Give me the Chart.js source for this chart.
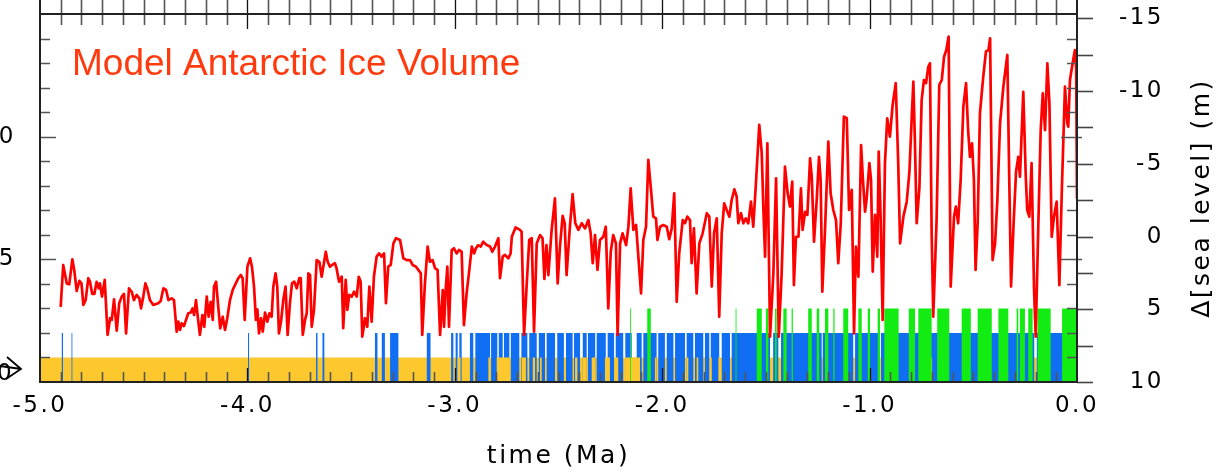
<!DOCTYPE html>
<html>
<head>
<meta charset="utf-8">
<title>Model Antarctic Ice Volume</title>
<script src="https://cdn.jsdelivr.net/npm/chart.js"></script>
<style>
  html, body { margin: 0; padding: 0; background: #fff; }
  #wrap { width: 1222px; height: 473px; overflow: hidden; }
</style>
</head>
<body>
<div id="wrap"><canvas id="iceChart" width="1222" height="473"></canvas></div>
<script>
// model ice volume (left axis units) against time (Ma)
const iceTime = [
  -4.900,-4.888,-4.871,-4.859,-4.844,-4.835,-4.823,-4.810,-4.800,-4.791,-4.780,-4.767,-4.759,-4.748,-4.738,-4.727,-4.717,-4.711,-4.701,-4.688,
  -4.674,-4.662,-4.654,-4.643,-4.630,-4.618,-4.606,-4.595,-4.585,-4.571,-4.558,-4.547,-4.534,-4.521,-4.513,-4.502,-4.492,-4.483,-4.470,-4.454,
  -4.430,-4.418,-4.405,-4.392,-4.381,-4.365,-4.354,-4.341,-4.333,-4.325,-4.317,-4.306,-4.296,-4.285,-4.273,-4.264,-4.257,-4.248,-4.238,-4.229,
  -4.217,-4.208,-4.196,-4.187,-4.177,-4.167,-4.161,-4.151,-4.142,-4.131,-4.119,-4.108,-4.097,-4.084,-4.071,-4.060,-4.044,-4.032,-4.023,-4.013,
  -4.000,-3.987,-3.978,-3.968,-3.959,-3.952,-3.944,-3.934,-3.926,-3.915,-3.904,-3.894,-3.883,-3.875,-3.864,-3.856,-3.848,-3.837,-3.827,-3.816,
  -3.806,-3.795,-3.785,-3.774,-3.762,-3.750,-3.743,-3.733,-3.722,-3.714,-3.706,-3.698,-3.690,-3.679,-3.666,-3.653,-3.642,-3.634,-3.622,-3.613,
  -3.602,-3.591,-3.578,-3.570,-3.558,-3.545,-3.538,-3.526,-3.518,-3.509,-3.497,-3.486,-3.473,-3.463,-3.454,-3.446,-3.433,-3.422,-3.412,-3.401,
  -3.390,-3.377,-3.365,-3.353,-3.341,-3.332,-3.321,-3.309,-3.296,-3.284,-3.264,-3.248,-3.232,-3.216,-3.203,-3.187,-3.176,-3.164,-3.157,-3.144,
  -3.131,-3.120,-3.107,-3.095,-3.083,-3.071,-3.058,-3.052,-3.044,-3.036,-3.028,-3.015,-3.004,-2.991,-2.980,-2.967,-2.956,-2.943,-2.930,-2.918,
  -2.907,-2.898,-2.887,-2.875,-2.863,-2.846,-2.830,-2.819,-2.806,-2.790,-2.782,-2.769,-2.758,-2.742,-2.731,-2.725,-2.707,-2.686,-2.678,-2.666,
  -2.653,-2.641,-2.629,-2.618,-2.605,-2.589,-2.577,-2.568,-2.558,-2.549,-2.533,-2.517,-2.504,-2.493,-2.480,-2.470,-2.461,-2.445,-2.432,-2.419,
  -2.404,-2.388,-2.372,-2.356,-2.345,-2.335,-2.324,-2.312,-2.300,-2.284,-2.272,-2.260,-2.248,-2.236,-2.223,-2.215,-2.203,-2.191,-2.174,-2.163,
  -2.152,-2.139,-2.126,-2.115,-2.102,-2.091,-2.078,-2.067,-2.054,-2.043,-2.030,-2.023,-2.010,-1.995,-1.978,-1.966,-1.954,-1.942,-1.930,-1.918,
  -1.901,-1.890,-1.879,-1.866,-1.858,-1.847,-1.834,-1.821,-1.805,-1.785,-1.773,-1.761,-1.750,-1.737,-1.725,-1.713,-1.701,-1.689,-1.676,-1.665,
  -1.652,-1.641,-1.633,-1.620,-1.609,-1.597,-1.585,-1.572,-1.561,-1.548,-1.532,-1.520,-1.512,-1.504,-1.493,-1.480,-1.464,-1.451,-1.438,-1.424,
  -1.408,-1.395,-1.384,-1.373,-1.365,-1.355,-1.343,-1.331,-1.323,-1.311,-1.300,-1.287,-1.279,-1.268,-1.255,-1.244,-1.236,-1.228,-1.215,-1.199,
  -1.188,-1.175,-1.162,-1.151,-1.139,-1.124,-1.110,-1.099,-1.086,-1.075,-1.066,-1.054,-1.041,-1.033,-1.022,-1.014,-1.001,-0.993,-0.985,-0.974,
  -0.963,-0.956,-0.947,-0.937,-0.926,-0.915,-0.902,-0.889,-0.874,-0.862,-0.853,-0.837,-0.821,-0.808,-0.796,-0.789,-0.781,-0.773,-0.760,-0.749,
  -0.738,-0.728,-0.717,-0.709,-0.701,-0.693,-0.677,-0.664,-0.652,-0.641,-0.630,-0.619,-0.609,-0.593,-0.584,-0.573,-0.561,-0.548,-0.535,-0.525,
  -0.516,-0.506,-0.497,-0.489,-0.479,-0.468,-0.452,-0.439,-0.427,-0.419,-0.407,-0.395,-0.384,-0.371,-0.355,-0.336,-0.326,-0.318,-0.307,-0.294,
  -0.283,-0.275,-0.259,-0.247,-0.240,-0.230,-0.219,-0.207,-0.199,-0.187,-0.175,-0.165,-0.154,-0.143,-0.133,-0.122,-0.111,-0.098,-0.085,-0.074,
  -0.058,-0.047,-0.042,-0.034,-0.021,-0.010,-0.004,0.000
];
const iceVolume = [
  3.10,4.77,4.02,3.98,5.00,4.57,3.71,4.12,4.02,3.14,3.34,4.23,4.09,3.59,3.59,4.08,3.82,4.02,3.48,4.16,
  1.92,2.60,2.53,3.37,2.09,3.21,3.48,3.59,1.98,3.82,3.68,3.34,3.55,3.41,3.00,3.48,4.02,3.82,3.34,3.14,
  3.21,3.30,3.82,3.75,3.34,3.41,3.34,2.05,2.46,2.12,2.39,2.28,2.53,2.80,2.83,3.00,2.73,3.34,2.56,1.92,
  2.73,2.25,3.48,2.66,3.27,2.53,3.89,4.09,3.21,2.19,2.66,2.12,2.60,3.34,3.75,3.95,4.23,4.36,4.23,2.53,
  4.70,5.04,4.70,3.89,2.53,2.96,1.98,2.60,2.05,2.83,2.46,2.80,2.66,3.89,4.43,3.89,1.98,2.53,3.34,3.89,
  1.92,3.21,4.02,4.09,3.82,4.23,4.23,1.92,2.53,2.80,4.43,4.36,2.25,2.94,4.97,4.90,4.29,4.70,5.31,4.90,
  4.70,4.77,4.84,4.63,4.09,4.29,2.19,4.16,2.94,3.55,3.48,3.68,3.48,4.29,4.09,1.85,2.60,2.25,3.89,2.46,
  4.29,5.11,5.24,5.11,5.24,3.21,4.70,4.77,5.65,5.86,5.79,5.04,4.97,4.97,4.77,4.70,4.57,4.43,1.92,4.02,
  5.52,4.90,4.97,4.63,4.57,1.92,3.75,2.25,3.75,4.70,2.25,5.38,5.45,5.24,5.38,5.31,2.32,3.61,4.57,5.52,
  5.24,5.45,5.58,5.52,5.72,5.58,5.52,5.31,5.52,5.86,4.23,5.11,5.18,5.04,5.24,5.92,6.30,6.20,6.13,1.92,
  4.02,5.79,5.86,2.05,5.65,5.99,5.86,4.20,5.58,4.36,6.20,7.49,4.02,5.52,6.77,6.47,4.36,6.33,7.66,6.47,
  6.20,6.47,6.26,6.60,6.06,4.84,5.99,4.57,5.79,5.92,6.33,3.00,5.31,5.99,5.65,1.92,5.65,6.06,5.58,6.33,
  7.89,6.20,6.40,5.11,3.61,5.79,6.33,9.05,7.83,6.74,6.67,5.79,6.33,6.40,6.33,5.82,6.26,7.69,3.27,5.24,
  6.60,6.47,6.74,6.60,4.84,6.26,3.61,5.65,6.06,6.88,6.74,3.89,6.06,6.67,2.66,6.06,7.28,7.01,6.74,7.42,
  7.85,7.56,6.47,6.88,6.47,6.67,6.47,7.35,6.33,8.10,10.48,9.32,7.01,5.11,9.73,1.85,4.43,8.30,1.85,4.43,
  8.78,7.69,7.15,8.17,3.95,5.92,5.92,7.89,6.20,6.94,6.81,9.12,8.37,5.72,7.42,9.18,8.23,3.68,6.20,9.80,
  7.69,7.01,6.60,4.84,6.47,10.82,10.75,7.01,7.83,1.98,5.52,4.29,9.66,8.37,6.94,7.49,8.92,8.23,4.50,6.81,
  5.11,9.39,6.74,2.53,8.92,10.75,10.00,11.29,12.18,8.92,5.65,6.74,7.35,8.57,10.95,12.24,9.59,6.47,7.89,11.50,
  12.31,12.18,12.85,12.99,6.20,2.66,6.60,12.11,12.31,13.26,13.53,14.08,3.89,6.74,7.15,6.47,8.23,11.22,12.18,10.27,
  9.18,9.73,8.23,4.57,6.47,10.95,12.45,13.47,13.53,14.01,4.97,5.65,7.42,10.55,12.04,13.33,7.96,3.89,6.20,8.57,
  9.18,8.37,11.83,8.37,7.01,6.74,8.92,3.75,1.85,6.20,10.27,11.77,10.27,12.99,11.36,5.92,6.74,7.35,3.95,7.56,
  12.04,10.55,10.41,12.31,12.99,13.53,12.80,7.50
];

// state bars, [start, end] in Ma
const yellowBand = [[-5.0, 0.0]];
const blueRuns = [
  [-4.896,-4.889],[-4.848,-4.844],[-3.997,-3.992],[-3.669,-3.662],[-3.638,-3.629],[-3.385,-3.373],[-3.352,-3.337],
  [-3.312,-3.272],[-3.135,-3.117],[-3.018,-3.007],[-2.996,-2.986],[-2.978,-2.967],[-2.927,-2.911],[-2.901,-2.830],
  [-2.825,-2.795],[-2.788,-2.769],[-2.763,-2.737],[-2.730,-2.689],[-2.679,-2.650],[-2.641,-2.605],[-2.595,-2.565],
  [-2.557,-2.517],[-2.506,-2.474],[-2.464,-2.432],[-2.425,-2.396],[-2.383,-2.364],[-2.358,-2.323],[-2.316,-2.272],
  [-2.263,-2.232],[-2.224,-2.188],[-2.178,-2.147],[-2.123,-2.099],[-2.091,-2.027],[-2.019,-1.987],[-1.978,-1.946],
  [-1.938,-1.890],[-1.882,-1.850],[-1.842,-1.802],[-1.794,-1.773],[-1.766,-1.725],[-1.713,-1.673],[-1.665,-1.480],
  [-1.465,-1.440],[-1.427,-1.231],[-1.226,-1.079],[-1.070,-0.958],[-0.945,-0.206],[-0.194,-0.066]
];
const yellowRuns = [
  [-2.988,-2.972],[-2.838,-2.830],[-2.798,-2.734],[-2.677,-2.657],[-2.624,-2.613],[-2.589,-2.581],[-2.420,-2.409],
  [-2.383,-2.364],[-2.340,-2.324],[-2.276,-2.252],[-2.228,-2.212],[-2.179,-2.107],[-2.035,-2.027],[-1.882,-1.874],
  [-1.834,-1.826],[-1.770,-1.761],[-1.729,-1.721],[-0.704,-0.698]
];
const greenRuns = [
  [-2.155,-2.151],[-2.072,-2.055],[-1.646,-1.642],[-1.544,-1.520],[-1.500,-1.488],[-1.456,-1.448],[-1.416,-1.400],
  [-1.376,-1.370],[-1.296,-1.279],[-1.255,-1.243],[-1.215,-1.199],[-1.175,-1.169],[-1.127,-1.103],[-1.054,-1.038],
  [-1.009,-0.998],[-0.961,-0.950],[-0.929,-0.860],[-0.811,-0.781],[-0.765,-0.701],[-0.674,-0.616],[-0.556,-0.512],
  [-0.479,-0.411],[-0.379,-0.331],[-0.291,-0.283],[-0.275,-0.251],[-0.235,-0.214],[-0.190,-0.127],[-0.072,0.000]
];

const timeTicks = [-5, -4, -3, -2, -1, 0];
const volumeTicks = [5, 10];
const seaLevelTicks = [-15, -10, -5, 0, 5, 10];

const chartTitle = 'Model Antarctic Ice Volume';
const timeTitle = 'time (Ma)';
const seaTitle = 'Δ[sea level] (m)';

const FONT = '"DejaVu Sans", sans-serif';

function stepData(runs, h) {
  const pts = [];
  runs.forEach(([s, e]) => { pts.push({x: s, y: h}, {x: e, y: 0}); });
  return pts;
}

function barSet(label, color, runs, h) {
  return {
    label, data: stepData(runs, h), stepped: true, fill: 'origin',
    backgroundColor: color, borderColor: 'transparent', borderWidth: 0,
    pointRadius: 0, yAxisID: 'y'
  };
}

// keep the plot box fixed: no extra label padding pushed into the layout
function fixBox(size, horizontal) {
  return s => {
    if (horizontal) s.height = size; else s.width = size;
    s.paddingTop = 0; s.paddingBottom = 0; s.paddingLeft = 0; s.paddingRight = 0;
  };
}

const framePlugin = {
  id: 'frame',
  beforeDraw(chart) {
    // the original lettering is widely spaced
    chart.ctx.letterSpacing = '2.5px';
  },
  afterDatasetsDraw(chart) {
    const {ctx, chartArea: a, scales: {x, y, y2}} = chart;
    ctx.save();
    ctx.lineCap = 'butt';
    // minor / major time ticks on top and bottom
    for (let i = 1; i < 50; i++) {
      const px = Math.round(x.getPixelForValue(-5 + i / 10)) + 0.5;
      const major = i % 10 === 0;
      ctx.strokeStyle = major ? '#111' : '#555';
      ctx.lineWidth = major ? 1.3 : 1.6;
      ctx.beginPath();
      ctx.moveTo(px, 0); ctx.lineTo(px, a.top + (major ? 15 : 11));
      ctx.moveTo(px, a.bottom); ctx.lineTo(px, a.bottom - (major ? 14 : 10));
      ctx.stroke();
    }
    // volume ticks, left side and mirrored on the right
    for (let v = 1; v < 15; v++) {
      const py = Math.round(y.getPixelForValue(v)) + 0.5;
      const major = v % 5 === 0;
      ctx.strokeStyle = '#555';
      ctx.lineWidth = 1.6;
      ctx.beginPath();
      ctx.moveTo(a.left, py); ctx.lineTo(a.left + (major ? 16 : 10), py);
      ctx.moveTo(a.right - (major ? 16 : 10), py); ctx.lineTo(a.right + (major ? 5 : 0), py);
      ctx.stroke();
    }
    // sea level ticks, outward on the right
    for (let s = -15; s <= 10; s += 2.5) {
      const py = Math.round(y2.getPixelForValue(s)) + 0.5;
      ctx.strokeStyle = '#444';
      ctx.lineWidth = 1.6;
      ctx.beginPath();
      ctx.moveTo(a.right, py); ctx.lineTo(a.right + 16, py);
      ctx.stroke();
    }
    // frame
    ctx.strokeStyle = '#222';
    ctx.lineWidth = 2;
    ctx.beginPath();
    ctx.moveTo(a.left, 0); ctx.lineTo(a.left, a.bottom);
    ctx.lineTo(a.right, a.bottom); ctx.lineTo(a.right, 0);
    ctx.moveTo(a.left, a.top); ctx.lineTo(a.right, a.top);
    ctx.stroke();
    ctx.restore();
  },
  afterDraw(chart) {
    const {ctx, chartArea: a} = chart;
    ctx.save();
    ctx.letterSpacing = '0px';
    ctx.fillStyle = '#ff3a0f';
    ctx.font = '37px "Liberation Sans", Arial, sans-serif';
    ctx.textAlign = 'left';
    ctx.textBaseline = 'alphabetic';
    ctx.fillText(chartTitle, 72, 75);

    // origin label with its pointer, bottom left
    ctx.fillStyle = '#000';
    ctx.font = '23px ' + FONT;
    ctx.fillText('0', -3, 380);
    ctx.strokeStyle = '#000';
    ctx.lineWidth = 1.8;
    ctx.beginPath();
    ctx.moveTo(0, 366); ctx.lineTo(21, 369);
    ctx.moveTo(7, 357); ctx.lineTo(21, 369); ctx.lineTo(6, 379);
    ctx.stroke();

    ctx.font = '25px ' + FONT;
    ctx.letterSpacing = '2.5px';
    ctx.textAlign = 'center';
    ctx.fillText(timeTitle, (a.left + a.right) / 2, 463);
    ctx.translate(1209, (a.top + a.bottom) / 2);
    ctx.rotate(-Math.PI / 2);
    ctx.fillText(seaTitle, 0, 0);
    ctx.restore();
    ctx.letterSpacing = '0px';
  }
};

const tickFont = {family: FONT, size: 23};

new Chart(document.getElementById('iceChart'), {
  type: 'line',
  data: {
    datasets: [
      {
        label: 'ice volume',
        data: iceTime.map((t, i) => ({x: t, y: iceVolume[i]})),
        borderColor: '#ff0000', borderWidth: 2.7, pointRadius: 0,
        borderJoinStyle: 'round', borderCapStyle: 'round',
        fill: false, tension: 0, yAxisID: 'y'
      },
      barSet('large', '#12ec12', greenRuns, 3),
      barSet('small (under)', '#fcc82e', yellowRuns, 1),
      barSet('medium', '#0f6ef2', blueRuns, 2),
      barSet('small', '#fcc82e', yellowBand, 1)
    ]
  },
  options: {
    responsive: false,
    animation: false,
    layout: {padding: {top: 14, left: 0, right: 58, bottom: 0}},
    plugins: {legend: {display: false}, tooltip: {enabled: false}},
    scales: {
      x: {
        type: 'linear', min: -5, max: 0, position: 'bottom',
        grid: {display: false, drawTicks: false}, border: {display: false},
        afterBuildTicks: s => { s.ticks = timeTicks.map(v => ({value: v})); },
        afterFit: fixBox(91, true),
        ticks: {
          font: tickFont, color: '#000', padding: 10, maxRotation: 0, autoSkip: false,
          callback: v => v.toFixed(1)
        }
      },
      y: {
        type: 'linear', min: 0, max: 15, position: 'left',
        grid: {display: false, drawTicks: false}, border: {display: false},
        afterBuildTicks: s => { s.ticks = volumeTicks.map(v => ({value: v})); },
        afterFit: fixBox(40, false),
        ticks: {font: tickFont, color: '#000', padding: 24, callback: v => String(v)}
      },
      y2: {
        type: 'linear', min: -15.3, max: 10, reverse: true, position: 'right',
        grid: {display: false, drawTicks: false}, border: {display: false},
        afterBuildTicks: s => { s.ticks = seaLevelTicks.map(v => ({value: v})); },
        afterFit: fixBox(87, false),
        ticks: {font: tickFont, color: '#000', padding: 0, crossAlign: 'far', callback: v => String(v)}
      }
    }
  },
  plugins: [framePlugin]
});
</script>
</body>
</html>
